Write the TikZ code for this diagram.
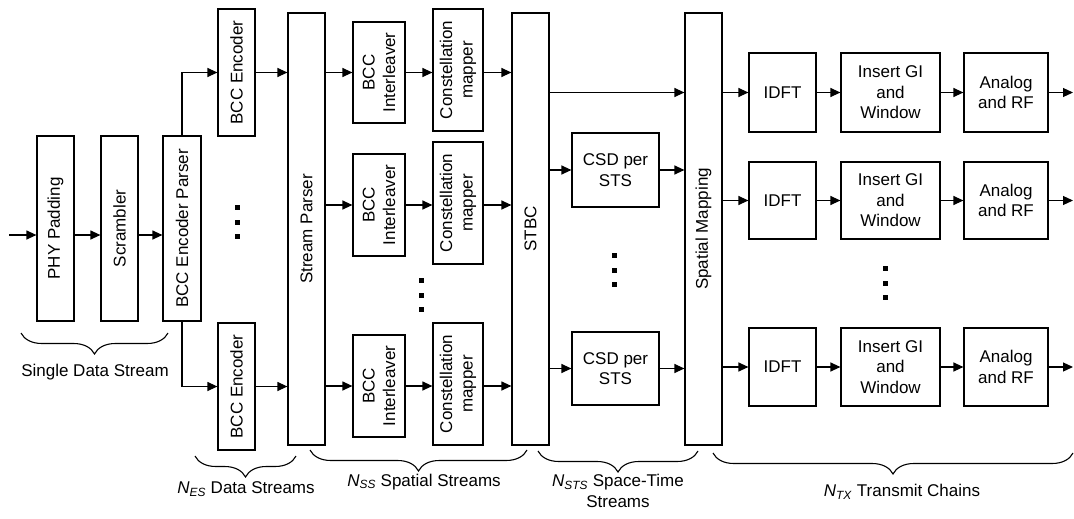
\documentclass[tikz,border=0pt]{standalone}
\usepackage{fontspec}
\setmainfont{Liberation Sans}
\usetikzlibrary{arrows.meta,decorations.pathreplacing}

\tikzset{
  blk/.style={draw, line width=1.2pt, fill=white, inner sep=2pt, align=center},
  arr/.style={line width=1.2pt, -{Triangle[length=10pt,width=9pt]}},
  brc/.style={line width=1.1pt, decorate, decoration={brace, mirror, amplitude=21pt}},
}

\begin{document}
\begin{tikzpicture}[x=1pt, y=-1pt, font=\fontsize{17}{20.5}\selectfont]
  \useasboundingbox[fill=white] (0,0) rectangle (1074,519);
  % boxes given by corners: name, x1, y1, x2, y2, text
  \newcommand{\blk}[6]{%
    \node[blk, minimum width={(#4-#2)*1pt}, minimum height={(#5-#3)*1pt}] (#1) at ({(#2+#4)/2},{(#3+#5)/2}) {#6};
  }
  \newcommand{\vblk}[6]{%
    \node[blk, minimum width={(#4-#2)*1pt}, minimum height={(#5-#3)*1pt},
      label={[rotate=90, align=center]center:#6}] (#1) at ({(#2+#4)/2},{(#3+#5)/2}) {};
  }
  % single data stream
  \vblk{pad}{37}{136}{74}{321}{PHY Padding}
  \vblk{scr}{101}{136}{138}{321}{Scrambler}
  \vblk{bep}{163}{136}{201}{321}{BCC Encoder Parser}
  \vblk{enc1}{218}{9}{255}{136}{BCC Encoder}
  \vblk{enc2}{218}{323}{255}{450}{BCC Encoder}
  \vblk{sp}{288}{13}{325}{445}{Stream Parser}
  % spatial streams
  \foreach \i/\ya/\yb/\yc/\yd in {1/22/123/9/131, 2/154/256/142/264, 3/335/437/323/445}{
    \vblk{il\i}{353}{\ya}{405}{\yb}{BCC\\Interleaver}
    \vblk{cm\i}{433}{\yc}{483}{\yd}{Constellation\\mapper}
  }
  \vblk{stbc}{512}{13}{549}{445}{STBC}
  \blk{csd1}{572}{133}{659}{207}{CSD per\\STS}
  \blk{csd2}{572}{332}{659}{405}{CSD per\\STS}
  \vblk{sm}{685}{13}{722}{445}{Spatial Mapping}
  % transmit chains
  \foreach \i/\ya/\yb in {1/53/132, 2/162/239, 3/328/406}{
    \blk{idft\i}{749}{\ya}{816}{\yb}{IDFT}
    \blk{gi\i}{841}{\ya}{940}{\yb}{Insert GI\\and\\Window}
    \blk{rf\i}{964}{\ya}{1048}{\yb}{Analog\\and RF}
  }

  % connectors
  \coordinate (in) at (9,235);
  \coordinate (tx) at (1073,0);
  \draw[arr] (in) -- (in -| pad.west);
  \draw[arr] (pad.east |- in) -- (scr.west |- in);
  \draw[arr] (scr.east |- in) -- (bep.west |- in);
  \draw[arr] (bep.north) |- (enc1.west);
  \draw[arr] (bep.south) |- (enc2.west);
  \draw[arr] (enc1.east) -- (sp.west |- enc1);
  \draw[arr] (enc2.east) -- (sp.west |- enc2);
  \foreach \i in {1,2,3}{
    \draw[arr] (sp.east |- il\i) -- (il\i.west);
    \draw[arr] (il\i.east) -- (cm\i.west |- il\i);
    \draw[arr] (cm\i.east |- il\i) -- (stbc.west |- il\i);
    \draw[arr] (sm.east |- idft\i) -- (idft\i.west);
    \draw[arr] (idft\i.east) -- (gi\i.west);
    \draw[arr] (gi\i.east) -- (rf\i.west);
    \draw[arr] (rf\i.east) -- (rf\i.east -| tx);
  }
  \draw[arr] (stbc.east |- idft1) -- (sm.west |- idft1);
  \foreach \i in {1,2}{
    \draw[arr] (stbc.east |- csd\i) -- (csd\i.west);
    \draw[arr] (csd\i.east) -- (sm.west |- csd\i);
  }

  % dots
  \foreach \x/\y in {237/222, 421/295, 614/270, 885/283}
    \foreach \d in {-14.5,0,14.5}
      \fill (\x-2.5,\y+\d-2.5) rectangle ++(5,5);

  % braces and their labels
  \draw[brc] (21,333) -- (168,333);
  \draw[brc] (195,456) -- (296,456);
  \draw[brc] (310,450) -- (527,450);
  \draw[brc] (538,451) -- (698,451);
  \draw[brc] (713,453) -- (1073,453);
  \node (l-sds) at (95,372) {Single Data Stream};
  \node (l-es) at (246,489) {\textit{N}\textsubscript{\textit{ES}} Data Streams};
  \node (l-ss) at (424,482) {\textit{N}\textsubscript{\textit{SS}} Spatial Streams};
  \node[align=center] (l-sts) at (618,491) {\textit{N}\textsubscript{\textit{STS}} Space-Time\\Streams};
  \node (l-tx) at (902,492) {\textit{N}\textsubscript{\textit{TX}} Transmit Chains};
\end{tikzpicture}
\end{document}
